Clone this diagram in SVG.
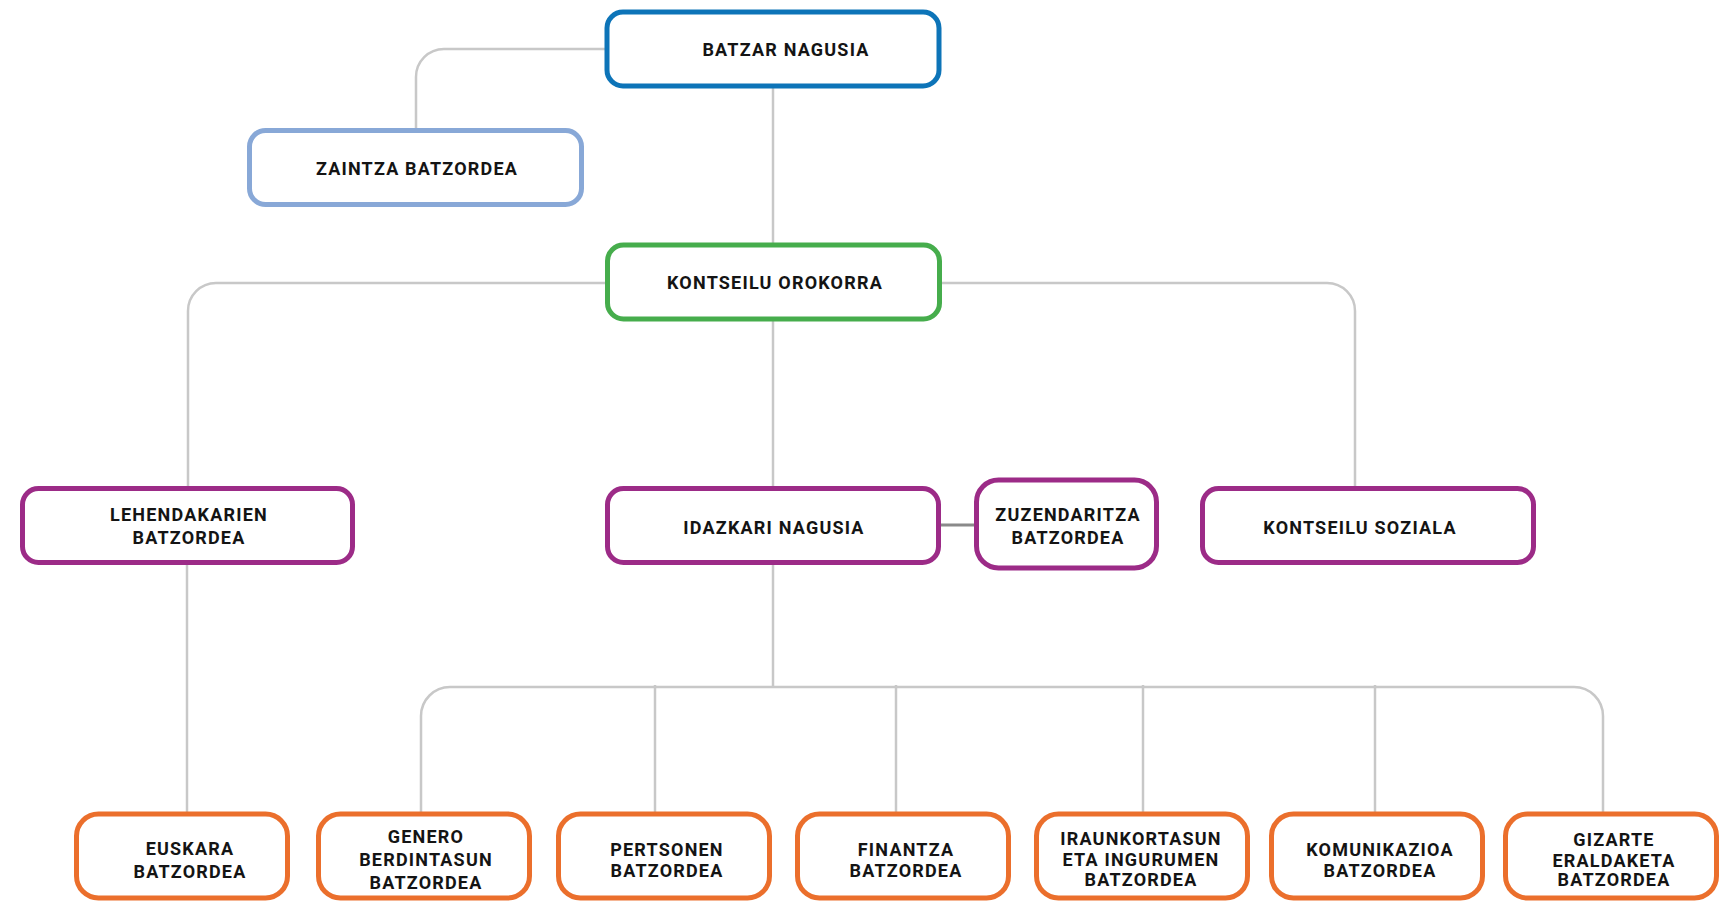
<svg xmlns="http://www.w3.org/2000/svg" width="1732" height="901" viewBox="0 0 1732 901">
<style>
.n{fill:#fff;stroke-width:5}
.blue{stroke:#0d74b8}
.lblue{stroke:#88a8d7}
.green{stroke:#46ad4c}
.purple{stroke:#9c2b87}
.orange{stroke:#eb6f2c}
.t{font-family:Roboto,"Liberation Sans",sans-serif;font-weight:700;font-size:18px;letter-spacing:1.2px;fill:#141414;text-anchor:middle}
.c{fill:none;stroke:#c8c8c8;stroke-width:2.5}
.c2{fill:none;stroke:#8a8a8a;stroke-width:3}
</style>
<rect width="1732" height="901" fill="#fff"/>
<g id="connectors">
<path class="c" d="M607,49 H444 A28,28 0 0 0 416,77 V131"/>
<path class="c" d="M773,86 V245"/>
<path class="c" d="M607,283 H216 A28,28 0 0 0 188,311 V489"/>
<path class="c" d="M940,283 H1327 A28,28 0 0 1 1355,311 V489"/>
<path class="c" d="M773,320 V489"/>
<path class="c" d="M187,562 V815"/>
<path class="c" d="M773,562 V687"/>
<path class="c" d="M421,815 V716 A29,29 0 0 1 450,687 H1574 A29,29 0 0 1 1603,716 V815"/>
<path class="c" d="M655,685 V815"/>
<path class="c" d="M896,685 V815"/>
<path class="c" d="M1143,685 V815"/>
<path class="c" d="M1375,685 V815"/>
<path class="c2" d="M939,525 H977"/>
</g>
<g id="batzar-nagusia">
<rect class="n blue" x="607" y="12" width="332" height="74" rx="16"/>
<text class="t" x="786" y="55.5">BATZAR NAGUSIA</text>
</g>
<g id="zaintza-batzordea">
<rect class="n lblue" x="249.5" y="130.5" width="332" height="74" rx="16"/>
<text class="t" x="417" y="174.5">ZAINTZA BATZORDEA</text>
</g>
<g id="kontseilu-orokorra">
<rect class="n green" x="607.5" y="245" width="332" height="74" rx="16"/>
<text class="t" x="775" y="288.5">KONTSEILU OROKORRA</text>
</g>
<g id="lehendakarien-batzordea">
<rect class="n purple" x="22.5" y="488.5" width="330" height="74" rx="16"/>
<text class="t" x="189" y="520.5">LEHENDAKARIEN</text>
<text class="t" x="189" y="543.5">BATZORDEA</text>
</g>
<g id="idazkari-nagusia">
<rect class="n purple" x="607.5" y="488.5" width="331" height="74" rx="16"/>
<text class="t" x="774" y="533.5">IDAZKARI NAGUSIA</text>
</g>
<g id="zuzendaritza-batzordea">
<rect class="n purple" x="976.5" y="480" width="180" height="88" rx="22"/>
<text class="t" x="1068" y="520.5">ZUZENDARITZA</text>
<text class="t" x="1068" y="543.5">BATZORDEA</text>
</g>
<g id="kontseilu-soziala">
<rect class="n purple" x="1202.5" y="488.5" width="331" height="74" rx="16"/>
<text class="t" x="1360" y="533.5">KONTSEILU SOZIALA</text>
</g>
<g id="euskara-batzordea">
<rect class="n orange" x="76.5" y="814" width="211" height="84" rx="22"/>
<text class="t" x="190" y="855">EUSKARA</text>
<text class="t" x="190" y="877.5">BATZORDEA</text>
</g>
<g id="genero-berdintasun-batzordea">
<rect class="n orange" x="318.5" y="814" width="211" height="84" rx="22"/>
<text class="t" x="426" y="843">GENERO</text>
<text class="t" x="426" y="866">BERDINTASUN</text>
<text class="t" x="426" y="889">BATZORDEA</text>
</g>
<g id="pertsonen-batzordea">
<rect class="n orange" x="558.5" y="814" width="211" height="84" rx="22"/>
<text class="t" x="667" y="856">PERTSONEN</text>
<text class="t" x="667" y="877">BATZORDEA</text>
</g>
<g id="finantza-batzordea">
<rect class="n orange" x="797.5" y="814" width="211" height="84" rx="22"/>
<text class="t" x="906" y="856">FINANTZA</text>
<text class="t" x="906" y="877">BATZORDEA</text>
</g>
<g id="iraunkortasun-batzordea">
<rect class="n orange" x="1036.5" y="814" width="211" height="84" rx="22"/>
<text class="t" x="1141" y="845">IRAUNKORTASUN</text>
<text class="t" x="1141" y="865.5">ETA INGURUMEN</text>
<text class="t" x="1141" y="886">BATZORDEA</text>
</g>
<g id="komunikazioa-batzordea">
<rect class="n orange" x="1271.5" y="814" width="211" height="84" rx="22"/>
<text class="t" x="1380" y="856">KOMUNIKAZIOA</text>
<text class="t" x="1380" y="877">BATZORDEA</text>
</g>
<g id="gizarte-eraldaketa-batzordea">
<rect class="n orange" x="1505.5" y="814" width="211" height="84" rx="22"/>
<text class="t" x="1614" y="846">GIZARTE</text>
<text class="t" x="1614" y="866.5">ERALDAKETA</text>
<text class="t" x="1614" y="886">BATZORDEA</text>
</g>
</svg>
